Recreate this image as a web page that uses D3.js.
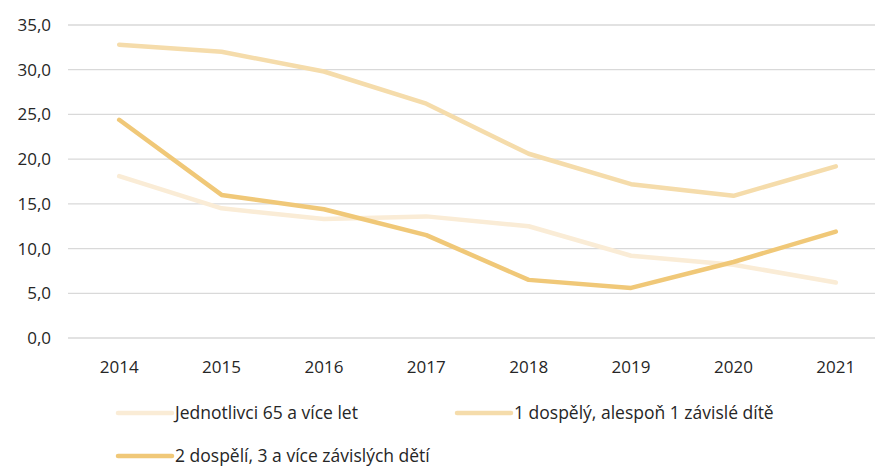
<!DOCTYPE html>
<html lang="cs">
<head>
<meta charset="utf-8">
<script src="https://d3js.org/d3.v7.min.js"></script>
<style>
  body { margin: 0; background: #fff; }
  text { font-family: "Open Sans", sans-serif; fill: #262626; }
</style>
</head>
<body>
<script>
// data
var years = ["2014", "2015", "2016", "2017", "2018", "2019", "2020", "2021"];
var seriesNames = ["Jednotlivci 65 a více let", "1 dospělý, alespoň 1 závislé dítě", "2 dospělí, 3 a více závislých dětí"];
var singles65 = [18.1, 14.5, 13.3, 13.6, 12.5, 9.2, 8.2, 6.2];
var oneAdult = [32.8, 32.0, 29.8, 26.2, 20.6, 17.2, 15.9, 19.2];
var twoAdults3 = [24.4, 16.0, 14.4, 11.5, 6.5, 5.6, 8.5, 11.9];
var yTicks = [0, 5, 10, 15, 20, 25, 30, 35];
var colors = ["#faecd6", "#f5dcab", "#f0c878"];

var W = 875, H = 468;
var svg = d3.select("body").append("svg").attr("width", W).attr("height", H);

var x = d3.scaleBand().domain(years).range([68, 887]);
var y = d3.scaleLinear().domain([0, 35]).range([338, 25]);

// mřížka
svg.append("g").selectAll("line").data(yTicks).enter().append("line")
  .attr("x1", 68).attr("x2", W)
  .attr("y1", function(d){ return y(d); }).attr("y2", function(d){ return y(d); })
  .attr("stroke", "#d9d9d9").attr("stroke-width", 1.3);

// popisky osy y
svg.append("g").selectAll("text").data(yTicks).enter().append("text")
  .attr("x", 51).attr("y", function(d){ return y(d); })
  .attr("dy", "0.35em").attr("text-anchor", "end").attr("font-size", 17)
  .text(function(d){ return d3.format(".1f")(d).replace(".", ","); });

// popisky osy x
svg.append("g").selectAll("text").data(years).enter().append("text")
  .attr("x", function(d){ return x(d) + x.bandwidth()/2; }).attr("y", 367)
  .attr("dy", "0.35em").attr("text-anchor", "middle").attr("font-size", 17)
  .text(function(d){ return d; });

var line = d3.line()
  .x(function(d, i){ return x(years[i]) + x.bandwidth()/2; })
  .y(function(d){ return y(d); });

var all = [singles65, oneAdult, twoAdults3];
all.forEach(function(s, i){
  svg.append("path").datum(s)
    .attr("d", line)
    .attr("fill", "none")
    .attr("stroke", colors[i])
    .attr("stroke-width", 4.5)
    .attr("stroke-linecap", "round")
    .attr("stroke-linejoin", "round");
});

// legenda
var legendPos = [[118, 413], [457, 413], [118, 456]];
seriesNames.forEach(function(name, i){
  var g = svg.append("g").attr("transform", "translate(" + legendPos[i][0] + "," + legendPos[i][1] + ")");
  g.append("line").attr("x1", 0).attr("x2", 54).attr("y1", 0).attr("y2", 0)
    .attr("stroke", colors[i]).attr("stroke-width", 4.5).attr("stroke-linecap", "round");
  g.append("text").attr("x", 57).attr("y", 0).attr("dy", "0.35em").attr("font-size", 17.5).text(name);
});
</script>
</body>
</html>
